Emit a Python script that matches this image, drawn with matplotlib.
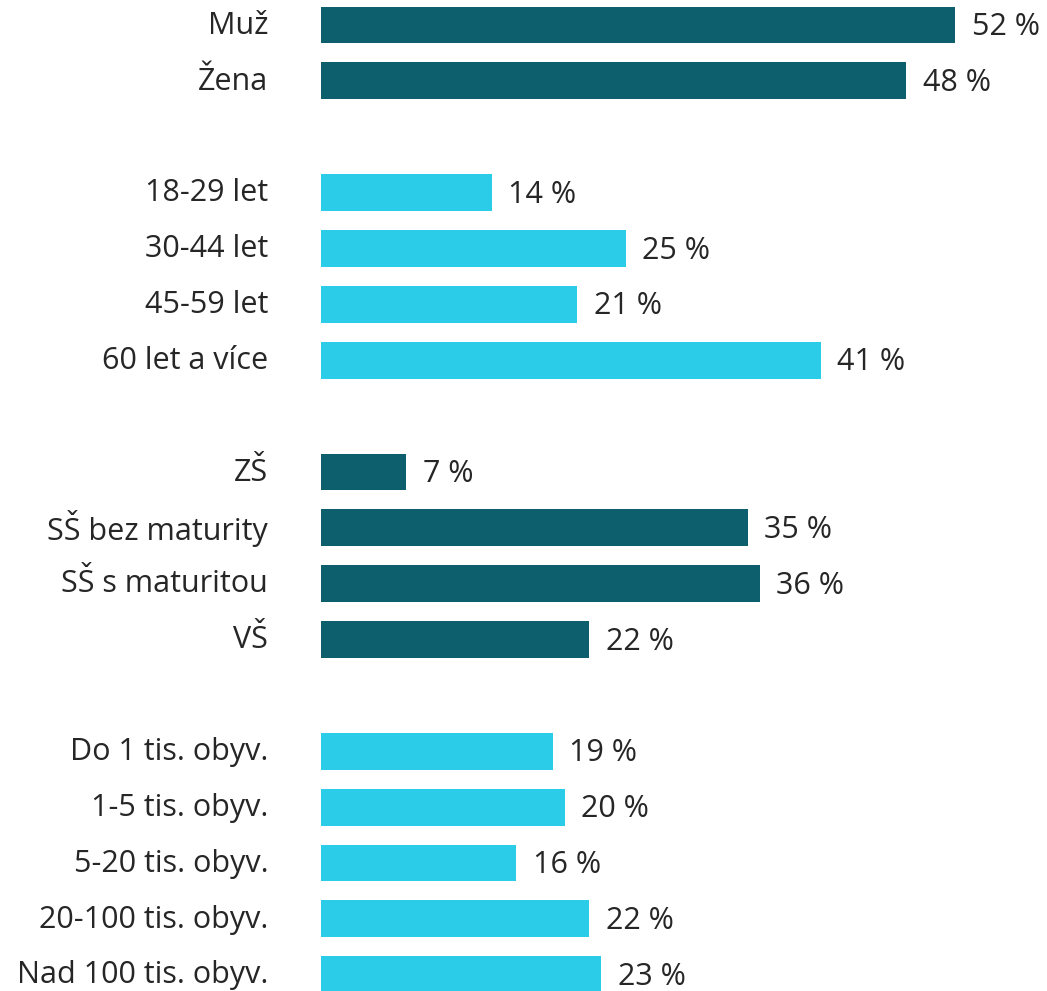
import matplotlib.pyplot as plt
import numpy as np

plt.rcParams['font.family'] = ['Open Sans', 'DejaVu Sans']

# data
labels = ["Muž", "Žena",
          "18-29 let", "30-44 let", "45-59 let", "60 let a více",
          "ZŠ", "SŠ bez maturity", "SŠ s maturitou", "VŠ",
          "Do 1 tis. obyv.", "1-5 tis. obyv.", "5-20 tis. obyv.",
          "20-100 tis. obyv.", "Nad 100 tis. obyv."]
values = [52, 48,
          14, 25, 21, 41,
          7, 35, 36, 22,
          19, 20, 16, 22, 23]
group = [0, 0, 1, 1, 1, 1, 2, 2, 2, 2, 3, 3, 3, 3, 3]

dark = "#0e5f6e"
light = "#2bcce8"
text_col = "#262626"

# one empty row between groups
rows = np.array([i + g for i, g in enumerate(group)])
colors = [dark if g % 2 == 0 else light for g in group]

fig = plt.figure(figsize=(10.47, 9.91), dpi=100)
ax = fig.add_axes([0, 0, 1, 1])
ax.barh(rows, values, height=0.66, color=colors)

for r, v in zip(rows, values):
    ax.annotate(f"{v} %", (v, r), xytext=(12, -1.5), textcoords="offset points",
                va="center", ha="left", fontsize=22, color=text_col)

ax.set_xlim(-26.33, 59.56)
ax.set_ylim(17.29, -0.447)

for r, lab in zip(rows, labels):
    ax.annotate(lab, (0, r), xytext=(-38, -0.5), textcoords="offset points",
                va="center", ha="right", fontsize=22, color=text_col)

ax.axis("off")
fig.savefig("out.png", dpi=100)
